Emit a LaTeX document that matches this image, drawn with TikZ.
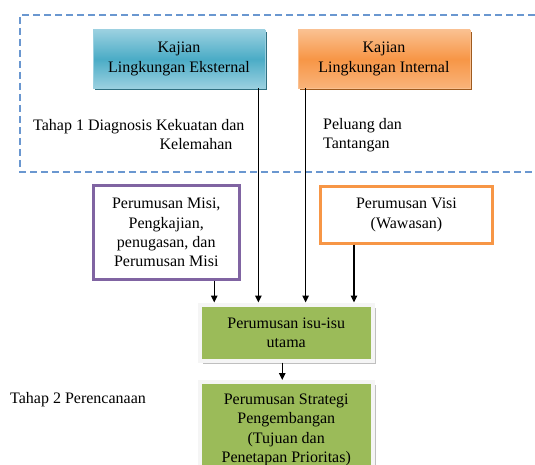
\documentclass[tikz,border=0pt]{standalone}
\usepackage{fontspec}
\setmainfont{Liberation Serif}
\usetikzlibrary{arrows.meta, shadows}

\definecolor{kjblue}{HTML}{4BACC6}
\definecolor{kjbluelt}{HTML}{9AD0E0}
\definecolor{kjbluedk}{HTML}{2F6F80}
\definecolor{kjorange}{HTML}{F79646}
\definecolor{kjorangelt}{HTML}{FAC090}
\definecolor{kjorangedk}{HTML}{9E5A1E}
\definecolor{misipurple}{HTML}{8064A2}
\definecolor{isugreen}{HTML}{9BBB59}
\definecolor{dashblue}{HTML}{6A97D0}

\begin{document}
\begin{tikzpicture}[
  x=1pt, y=-1pt,
  font=\fontsize{16}{19.4}\selectfont,
  kajian/.style={align=center, minimum width=172pt, minimum height=58pt, inner sep=0pt, line width=0.8pt},
  ekstbox/.style={kajian, draw=kjbluelt, top color=kjbluelt, bottom color=kjbluelt, middle color=kjblue,
    drop shadow={shadow xshift=2pt, shadow yshift=-2pt, fill=kjbluedk, opacity=1}},
  internbox/.style={kajian, draw=kjorangelt, top color=kjorangelt, bottom color=kjorangelt!70!kjorange, middle color=kjorange,
    drop shadow={shadow xshift=2pt, shadow yshift=-2pt, fill=kjorangedk, opacity=1}},
  rumus/.style={draw=#1, line width=3pt, fill=white, align=center, inner sep=0pt},
  isubox/.style={draw=gray!8, line width=4pt, fill=isugreen, align=center, minimum width=172.5pt, inner sep=0pt,
    drop shadow={shadow xshift=3pt, shadow yshift=-3pt, fill=gray!50, opacity=1}},
  label/.style={inner sep=0pt},
  dashbox/.style={draw=dashblue, line width=1.2pt, dash pattern=on 7pt off 4pt},
  arr/.style={line width=1.4pt, -{Triangle[length=7pt, width=6.5pt]}}
]
\useasboundingbox (0,0) rectangle (535,465);

% tahap 1
\draw[dashbox] (535,15) -- (20,15) -- (20,172) -- (535,172);
\node[ekstbox]   (ekst)   at (179,59) {Kajian\\Lingkungan Eksternal};
\node[internbox] (intern) at (384,59) {Kajian\\Lingkungan Internal};
\node[label, anchor=west, align=right] (tahap1) at (33,134.5) {Tahap 1 Diagnosis Kekuatan dan\\Kelemahan\hspace*{12pt}};
\node[label, anchor=west, align=left]  (peluang) at (323,135) {Peluang dan\\Tantangan};

% misi dan visi
\node[rumus=misipurple, minimum width=146.5pt, minimum height=93pt] (misi) at (166.25,232.5)
  {Perumusan Misi,\\Pengkajian,\\penugasan, dan\\Perumusan Misi};
\node[rumus=kjorange, minimum width=172pt, minimum height=56pt] (visi) at (406.5,215)
  {Perumusan Visi\\(Wawasan)};

% tahap 2
\node[isubox, minimum height=56pt] (isu)   at (286.25,332.5) {Perumusan isu-isu\\utama};
\node[isubox, minimum height=96pt] (strat) at (286.25,430)
  {Perumusan Strategi\\Pengembangan\\(Tujuan dan\\Penetapan Prioritas)};
\node[label, anchor=west] (tahap2) at (10,400) {Tahap 2 Perencanaan};

\coordinate (m1) at ([xshift=48pt]misi.south);
\coordinate (e1) at ([xshift=-7pt]ekst.south east);
\coordinate (i1) at ([xshift=8pt]intern.south west);
\coordinate (v1) at ([xshift=35pt]visi.south west);
\coordinate (s1) at ([xshift=-4pt]isu.south);

\draw[arr] (m1) -- (m1 |- isu.north);
\draw[arr] (e1) -- (e1 |- isu.north);
\draw[arr] (i1) -- (i1 |- isu.north);
\draw[arr] (v1) -- (v1 |- isu.north);
\draw[arr] (s1) -- (s1 |- strat.north);
\end{tikzpicture}
\end{document}
